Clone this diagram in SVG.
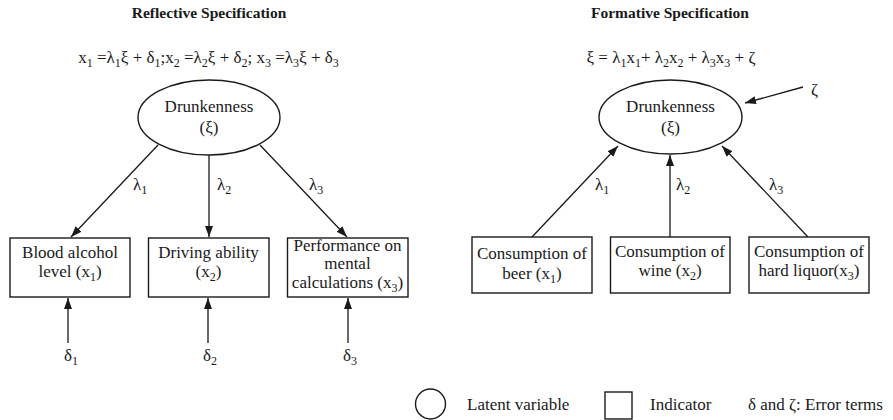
<svg xmlns="http://www.w3.org/2000/svg" width="893" height="420" viewBox="0 0 893 420">
<style>
text{font-family:"Liberation Serif","Times New Roman",serif;font-size:17px;fill:#1a1a1a}
.title{font-weight:bold;font-size:15.5px;text-anchor:middle}
.c{text-anchor:middle}
.s{font-size:12px}
.shape{fill:#fff;stroke:#1a1a1a;stroke-width:1.4}
.edge{stroke:#1a1a1a;stroke-width:1.3;fill:none;marker-end:url(#ah)}
</style>
<defs>
<marker id="ah" markerUnits="userSpaceOnUse" markerWidth="12" markerHeight="10" refX="11" refY="4" orient="auto">
<path d="M0,0 L11,4 L0,8 Z" fill="#1a1a1a"/>
</marker>
</defs>
<rect width="893" height="420" fill="#fff"/>

<text class="title" x="209" y="18">Reflective Specification</text>
<text class="title" x="670" y="18">Formative Specification</text>

<text class="c" x="208.5" y="63">x<tspan class="s" dy="4">1</tspan><tspan dy="-4"> =λ</tspan><tspan class="s" dy="4">1</tspan><tspan dy="-4">ξ + δ</tspan><tspan class="s" dy="4">1</tspan><tspan dy="-4">;x</tspan><tspan class="s" dy="4">2</tspan><tspan dy="-4"> =λ</tspan><tspan class="s" dy="4">2</tspan><tspan dy="-4">ξ + δ</tspan><tspan class="s" dy="4">2</tspan><tspan dy="-4">; x</tspan><tspan class="s" dy="4">3</tspan><tspan dy="-4"> =λ</tspan><tspan class="s" dy="4">3</tspan><tspan dy="-4">ξ + δ</tspan><tspan class="s" dy="4">3</tspan></text>

<text class="c" x="671" y="63">ξ = λ<tspan class="s" dy="4">1</tspan><tspan dy="-4">x</tspan><tspan class="s" dy="4">1</tspan><tspan dy="-4">+ λ</tspan><tspan class="s" dy="4">2</tspan><tspan dy="-4">x</tspan><tspan class="s" dy="4">2</tspan><tspan dy="-4"> + λ</tspan><tspan class="s" dy="4">3</tspan><tspan dy="-4">x</tspan><tspan class="s" dy="4">3</tspan><tspan dy="-4"> + ζ</tspan></text>

<g id="connectors">
<line class="edge" x1="158" y1="145" x2="71" y2="237"/>
<line class="edge" x1="209" y1="155" x2="209" y2="237"/>
<line class="edge" x1="260" y1="145" x2="347" y2="237"/>
<line class="edge" x1="68" y1="343" x2="68" y2="298"/>
<line class="edge" x1="208" y1="343" x2="208" y2="298"/>
<line class="edge" x1="348" y1="343" x2="348" y2="298"/>
<line class="edge" x1="532" y1="237" x2="618" y2="146"/>
<line class="edge" x1="670" y1="237" x2="670" y2="155"/>
<line class="edge" x1="808" y1="237" x2="722" y2="146"/>
<line class="edge" x1="803" y1="87" x2="745" y2="103"/>
</g>

<g id="labels">
<text x="133" y="190">λ<tspan class="s" dy="4">1</tspan></text>
<text x="217" y="190">λ<tspan class="s" dy="4">2</tspan></text>
<text x="309" y="190">λ<tspan class="s" dy="4">3</tspan></text>
<text x="595" y="190">λ<tspan class="s" dy="4">1</tspan></text>
<text x="676" y="190">λ<tspan class="s" dy="4">2</tspan></text>
<text x="769" y="190">λ<tspan class="s" dy="4">3</tspan></text>
<text x="64" y="361">δ<tspan class="s" dy="4">1</tspan></text>
<text x="203" y="361">δ<tspan class="s" dy="4">2</tspan></text>
<text x="343" y="361">δ<tspan class="s" dy="4">3</tspan></text>
<text x="811" y="95">ζ</text>
</g>

<g id="latent-reflective">
<ellipse class="shape" cx="209" cy="117.5" rx="71" ry="37.5"/>
<text class="c" x="209" y="112">Drunkenness</text>
<text class="c" x="209" y="133">(ξ)</text>
</g>
<g id="latent-formative">
<ellipse class="shape" cx="670.5" cy="117" rx="71.5" ry="37"/>
<text class="c" x="670.5" y="112">Drunkenness</text>
<text class="c" x="670.5" y="133">(ξ)</text>
</g>

<g id="blood-alcohol">
<rect class="shape" x="10" y="238" width="120" height="59"/>
<text class="c" x="70" y="258">Blood alcohol</text>
<text class="c" x="70" y="277">level (x<tspan class="s" dy="4">1</tspan><tspan dy="-4">)</tspan></text>
</g>
<g id="driving-ability">
<rect class="shape" x="148.5" y="238" width="120.5" height="59"/>
<text class="c" x="208.5" y="258">Driving ability</text>
<text class="c" x="208.5" y="277">(x<tspan class="s" dy="4">2</tspan><tspan dy="-4">)</tspan></text>
</g>
<g id="performance">
<rect class="shape" x="287.5" y="238" width="120.5" height="59"/>
<text class="c" x="347.5" y="251">Performance on</text>
<text class="c" x="347.5" y="269">mental</text>
<text class="c" x="347.5" y="288">calculations (x<tspan class="s" dy="4">3</tspan><tspan dy="-4">)</tspan></text>
</g>

<g id="beer">
<rect class="shape" x="472" y="237" width="120" height="56"/>
<text class="c" x="532" y="259">Consumption of</text>
<text class="c" x="532" y="279">beer (x<tspan class="s" dy="4">1</tspan><tspan dy="-4">)</tspan></text>
</g>
<g id="wine">
<rect class="shape" x="610.5" y="237" width="119.5" height="56"/>
<text class="c" x="670" y="257">Consumption of</text>
<text class="c" x="670" y="276">wine (x<tspan class="s" dy="4">2</tspan><tspan dy="-4">)</tspan></text>
</g>
<g id="hard-liquor">
<rect class="shape" x="749" y="237" width="120" height="56"/>
<text class="c" x="809" y="257">Consumption of</text>
<text class="c" x="809" y="276">hard liquor(x<tspan class="s" dy="4">3</tspan><tspan dy="-4">)</tspan></text>
</g>

<g id="legend">
<circle class="shape" cx="430.5" cy="404" r="15"/>
<text x="467" y="410">Latent variable</text>
<rect class="shape" x="605" y="392" width="27" height="27"/>
<text x="650" y="410">Indicator</text>
<text x="748" y="410">δ and ζ: Error terms</text>
</g>
</svg>
